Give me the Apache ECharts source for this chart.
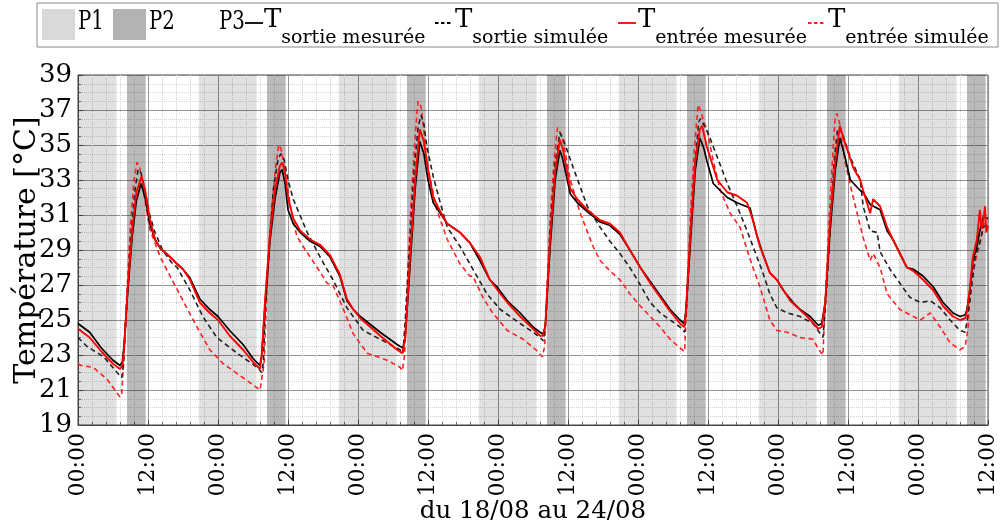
<!DOCTYPE html>
<html><head><meta charset="utf-8">
<script src="https://cdn.jsdelivr.net/npm/echarts@6/dist/echarts.min.js"></script>
<style>html,body{margin:0;padding:0;background:#fff}#c{width:1001px;height:526px}</style>
</head><body><div id="c"></div><script>
// Hours since 18/08 00:00
var tickLabels = ['00:00', '12:00'];
var p1Bands = [[0,6.6],[20.7,30.6],[44.7,54.6],[68.7,78.6],[92.7,102.6],[116.7,126.6],[140.7,150.6]];
var p2Bands = [[8.4,11.6],[32.4,35.6],[56.4,59.6],[80.4,83.6],[104.4,107.6],[128.4,131.6],[152.4,155.6]];

var sortieMesuree = [
 [0,24.8],[2,24.3],[4,23.4],[6,22.7],[7.2,22.4],[7.6,22.6],[7.9,23.6],[8.1,23.5],[8.5,26.5],[9.3,29.8],[10.0,31.8],[10.8,32.8],[11.5,32.0],[12.3,30.5],[13.2,29.6],[14.1,29.1],[15.8,28.6],[17,28.2],[18,27.9],[19.2,27.4],[20.9,26.2],[22.6,25.6],[24,25.2],[26,24.4],[28.3,23.6],[30.0,22.8],[31.2,22.4],
 [31.5,23.0],[32.1,26.0],[32.9,29.5],[33.8,32.0],[34.6,33.4],[35.0,33.6],[35.5,32.8],[36.0,31.3],[36.9,30.5],[38.1,30.0],[39.8,29.5],[41.5,29.2],[43.2,28.6],[44.9,27.5],[46.1,26.1],[47.2,25.6],[48.4,25.2],[51.8,24.3],[54.7,23.6],[55.7,23.4],
 [56.1,24.0],[56.9,28.0],[57.8,32.5],[58.6,35.2],[59.3,34.5],[60.0,33.0],[60.9,31.7],[62.1,31.1],[63.3,30.5],[65.5,30.0],[67.2,29.4],[68.9,28.4],[70.6,27.3],[71.8,26.9],[73.6,26.1],[75.8,25.4],[78.0,24.6],[79.2,24.3],[79.7,24.2],
 [80.1,24.6],[80.9,29.0],[81.8,33.0],[82.6,34.7],[83.1,34.2],[84.4,32.2],[85.6,31.7],[87.3,31.2],[89.5,30.6],[91.2,30.4],[92.9,29.9],[94.6,29.0],[96.4,28.0],[98.1,27.2],[99.8,26.4],[101.5,25.6],[103.2,25.0],[103.9,24.8],
 [104.2,25.5],[104.9,29.0],[105.8,33.5],[106.6,35.4],[107.3,34.8],[107.8,34.1],[108.9,32.8],[110.1,32.4],[111.3,32.0],[113.0,31.7],[115.2,31.4],[116.4,29.8],[117.4,28.8],[118.6,27.7],[119.8,27.3],[120.9,26.7],[122.6,26.0],[123.8,25.6],[125.5,25.2],[126.9,24.7],[127.5,24.8],
 [128.1,26.0],[128.9,30.0],[129.8,33.5],[130.6,35.4],[131.5,34.3],[132.4,33.0],[134.1,32.4],[134.6,32.3],[135.8,31.6],[137.5,31.3],[138.7,30.1],[139.7,29.6],[140.9,28.8],[142.1,28.0],[143.2,27.9],[144.9,27.5],[146.6,26.9],[148.3,26.0],[150.0,25.4],[151.2,25.2],[152.1,25.3],[152.4,25.6],[152.9,26.7],[153.4,28.4],[154.1,29.2],[154.6,30.1],[155.2,30.9],[156,30.8]
];
var sortieSimulee = [
 [0,24.0],[1.5,23.5],[4.4,22.9],[6.7,22.0],[7.5,21.7],[7.8,22.5],[8.3,25.5],[9.0,29.5],[9.8,32.5],[10.3,33.6],[10.8,33.4],[11.5,32.4],[12.3,31.0],[13.2,30.0],[14.5,29.0],[16.0,28.3],[17.0,28.0],[19.2,26.7],[21.4,25.2],[23.8,24.0],[27.3,23.1],[30.7,22.3],[31.5,22.0],[31.8,22.6],
 [32.0,25.0],[32.7,29.0],[33.5,32.5],[34.3,34.2],[34.8,34.5],[35.3,34.2],[36.0,33.0],[36.9,31.9],[39.3,30.0],[41.5,28.6],[43.7,27.3],[46.1,25.7],[48.9,24.4],[51.8,23.9],[55.2,23.3],[55.7,23.1],
 [56.1,25.0],[56.9,29.5],[57.6,33.5],[58.3,36.0],[58.8,36.7],[59.3,36.2],[59.8,34.9],[60.9,33.2],[62.1,31.7],[63.3,30.3],[65.5,29.2],[67.7,27.9],[70.1,26.5],[72.4,25.6],[75.8,24.8],[78.0,24.3],[79.2,24.0],[79.8,23.8],
 [80.2,25.0],[80.9,30.0],[81.8,34.0],[82.6,35.7],[83.2,35.3],[84.9,33.7],[87.3,31.5],[89.5,30.3],[91.2,29.5],[92.9,28.8],[94.6,28.0],[96.4,27.0],[98.1,26.0],[99.8,25.4],[101.5,25.0],[103.2,24.6],[104.0,24.3],
 [104.3,25.5],[105.0,30.0],[105.8,34.0],[106.4,36.3],[106.7,36.5],[107.2,36.2],[108.0,35.7],[109.6,34.3],[111.3,32.8],[113.0,31.5],[114.7,30.1],[116.4,28.6],[117.4,27.7],[118.6,26.5],[119.8,25.7],[121.6,25.4],[123.8,25.2],[126.0,24.8],[127.7,24.0],
 [128.1,25.5],[128.9,30.0],[129.6,34.0],[130.2,35.9],[130.6,36.0],[131.3,35.4],[132.4,34.3],[134.1,33.0],[134.6,31.5],[135.8,30.1],[137.0,30.0],[137.5,28.9],[139.2,27.9],[140.9,27.1],[142.6,26.3],[144.4,26.0],[146.1,26.1],[147.8,25.7],[149.5,25.0],[151.2,24.4],[152.1,24.3],[152.9,26.1],[153.8,28.6],[154.6,29.4],[155.2,30.3],[156,30.5]
];
var entreeMesuree = [
 [0,24.5],[2,24.0],[4,23.2],[6,22.5],[7.2,22.2],[7.6,22.4],[7.9,23.3],[8.1,23.4],[8.5,26.8],[9.3,30.2],[10.0,32.3],[10.9,33.2],[11.5,32.4],[12.3,30.8],[13.2,29.6],[14.1,29.1],[15.8,28.6],[17,28.2],[18,27.9],[19.2,27.3],[20.9,26.0],[22.6,25.4],[24,25.0],[26,24.1],[28.3,23.3],[30,22.6],[31.2,22.2],
 [31.5,23.0],[32.1,26.3],[32.9,29.8],[33.8,32.5],[34.6,33.8],[35.0,34.0],[35.5,33.4],[36.0,32.0],[36.9,30.8],[38.1,30.1],[39.8,29.6],[41.5,29.3],[43.2,28.7],[44.9,27.6],[46.1,26.2],[47.2,25.6],[48.4,25.1],[51.8,24.1],[54.7,23.3],[55.6,23.1],
 [56.1,24.0],[56.9,28.5],[57.8,33.0],[58.6,35.9],[59.3,35.2],[60.0,33.6],[60.9,32.0],[62.1,31.2],[63.3,30.5],[65.5,30.0],[67.2,29.4],[68.9,28.6],[70.6,27.3],[72.4,26.5],[73.6,26.0],[75.8,25.2],[78.0,24.5],[79.2,24.1],[79.7,24.1],
 [80.1,24.6],[80.9,29.5],[81.8,33.5],[82.6,35.3],[83.1,34.8],[84.4,32.5],[85.6,31.9],[87.3,31.3],[89.5,30.7],[91.2,30.5],[92.9,30.0],[94.6,29.0],[96.4,28.0],[98.1,27.1],[99.8,26.3],[101.5,25.5],[103.2,24.8],[103.9,24.6],
 [104.2,25.3],[104.9,29.5],[105.8,34.0],[106.6,35.9],[107.0,36.1],[107.8,34.9],[109.6,33.0],[111.3,32.3],[113.0,32.1],[114.7,31.7],[115.7,30.7],[116.9,29.2],[118.6,27.7],[119.8,27.3],[122.1,26.1],[125.0,25.2],[126.9,24.5],[127.5,24.6],
 [128.1,26.0],[128.9,30.5],[129.8,34.0],[130.6,36.1],[131.3,35.3],[132.9,33.7],[134.1,33.0],[134.6,32.4],[135.8,31.1],[136.3,31.9],[137.5,31.5],[138.7,30.3],[139.7,29.6],[140.9,28.8],[142.1,28.0],[143.2,27.8],[144.9,27.3],[146.6,26.7],[148.3,25.8],[150.0,25.2],[151.2,25.0],[152.1,25.1],[152.4,25.5],[152.9,26.8],[153.4,28.6],[154.1,29.6],[154.6,31.3],[154.9,30.2],[155.2,30.7],[155.5,31.5],[155.7,30.0],[156,30.4]
];
var entreeSimulee = [
 [0,22.5],[0.5,22.4],[2.6,22.3],[5.0,21.6],[7.2,20.6],[7.5,20.8],[7.8,22.5],[8.3,26.0],[9.0,30.5],[9.6,33.0],[10.1,34.0],[10.6,33.7],[11.3,32.2],[12.3,30.2],[14.1,28.6],[15.8,27.5],[18.0,26.1],[20.4,24.6],[22.6,23.3],[24.9,22.5],[28.3,21.7],[31.2,21.0],[31.5,20.9],[31.9,22.5],
 [32.3,26.0],[33.0,30.5],[33.8,33.5],[34.4,35.0],[34.8,34.8],[35.5,33.5],[36.4,31.5],[37.5,29.8],[38.6,29.2],[41.0,28.0],[42.7,27.1],[43.7,27.0],[45.4,25.7],[47.2,24.2],[49.6,23.1],[53.0,22.7],[55.2,22.3],[55.6,22.1],[56.0,23.0],
 [56.3,26.0],[57.0,31.0],[57.6,34.5],[58.1,36.8],[58.3,37.5],[58.8,37.2],[59.3,35.8],[59.8,34.0],[61.5,31.3],[63.3,29.6],[65.5,28.2],[67.2,27.5],[67.7,27.5],[69.4,26.3],[71.1,25.4],[73.6,24.4],[76.3,23.9],[78.5,23.3],[79.6,22.9],[80.0,23.5],
 [80.3,26.0],[81.0,31.0],[81.7,34.5],[82.2,36.0],[82.5,36.1],[83.0,35.5],[84.4,33.0],[86.1,31.1],[88.3,29.2],[89.5,28.4],[91.2,27.8],[92.9,27.3],[94.6,26.5],[96.4,25.8],[98.1,25.2],[99.8,24.6],[101.5,23.9],[103.2,23.4],[104.0,23.2],
 [104.3,26.0],[105.0,31.0],[105.6,34.5],[106.3,37.3],[106.7,37.0],[107.3,36.3],[107.8,35.9],[108.9,34.1],[110.1,32.4],[111.8,31.1],[113.5,30.3],[114.7,29.0],[115.7,28.0],[116.9,26.9],[118.6,25.0],[119.8,24.4],[121.6,24.3],[123.8,24.0],[126.0,23.9],[127.0,23.3],[127.7,23.0],
 [128.1,26.0],[128.8,31.0],[129.4,34.5],[129.8,36.6],[130.1,36.8],[130.6,36.2],[131.5,34.0],[132.9,32.0],[134.6,29.7],[135.8,28.4],[136.3,28.8],[137.5,28.0],[138.7,26.5],[140.9,25.6],[143.2,25.2],[144.4,25.0],[146.1,25.4],[147.8,24.6],[149.5,23.7],[151.2,23.3],[152.1,23.5],[152.6,24.6],[152.9,26.7],[153.8,28.3],[154.6,29.4],[155.3,30.5],[156,30.7]
];

var FONT = 'DejaVu Serif';
var chart = echarts.init(document.getElementById('c'), null, {renderer: 'canvas'});

function bandAreas(bands, color) {
  return bands.map(function (b) {
    return [{xAxis: b[0], itemStyle: {color: color}}, {xAxis: b[1]}];
  });
}

var legendY = 23;
function legendLine(x, color, dashed) {
  return {type: 'line', shape: {x1: x, y1: legendY, x2: x + 18, y2: legendY},
    style: {stroke: color, lineWidth: 1.8, lineDash: dashed ? [3.5, 2.5] : null}};
}
function legendT(x, sub) {
  return {type: 'text', x: x, y: 7,
    style: {text: '{t|T}{s|' + sub + '}', font: '26px ' + FONT,
      rich: {t: {fontSize: 26, fontFamily: FONT, fill: '#000', verticalAlign: 'top'},
             s: {fontSize: 19, fontFamily: FONT, fill: '#000', padding: [22, 0, 0, 0]}}}};
}
function legendP(x, label) {
  return {type: 'text', x: x, y: 9, scaleX: 0.76,
    style: {text: label, font: '26px ' + FONT, fill: '#000'}};
}

var option = {
  animation: false,
  backgroundColor: '#fff',
  grid: {left: 78, right: 13, top: 75, bottom: 101, show: true, borderColor: '#444', borderWidth: 1,
         backgroundColor: 'transparent', containLabel: false, outerBoundsMode: 'none'},
  xAxis: {
    type: 'value', min: 0, max: 156, interval: 12,
    name: 'du 18/08 au 24/08', nameLocation: 'middle', nameGap: 74, nameMoveOverlap: false,
    nameTextStyle: {fontFamily: FONT, fontSize: 24.5, color: '#000'},
    axisLine: {show: true, lineStyle: {color: '#444'}},
    axisTick: {show: true, inside: true, length: 5, lineStyle: {color: '#444'}},
    minorTick: {show: true, splitNumber: 5, length: 3, lineStyle: {color: '#666'}},
    axisLabel: {rotate: 90, margin: 8, fontFamily: FONT, fontSize: 22, color: '#000',
      formatter: function (v) { return tickLabels[(v / 12) % 2]; }},
    splitLine: {show: true, lineStyle: {color: '#939393', width: 1}},
    minorSplitLine: {show: true, lineStyle: {color: '#d2d2d2', type: 'dotted', width: 1}}
  },
  yAxis: {
    type: 'value', min: 19, max: 39, interval: 2,
    name: 'Température [°C]', nameLocation: 'middle', nameGap: 36, nameRotate: 90, nameMoveOverlap: false,
    nameTextStyle: {fontFamily: FONT, fontSize: 30, color: '#000'},
    axisLine: {show: true, lineStyle: {color: '#444'}},
    axisTick: {show: true, inside: true, length: 5, lineStyle: {color: '#444'}},
    minorTick: {show: true, splitNumber: 4, length: 3, lineStyle: {color: '#666'}},
    axisLabel: {margin: 6, fontFamily: FONT, fontSize: 26, color: '#000'},
    splitLine: {show: true, lineStyle: {color: '#939393', width: 1}},
    minorSplitLine: {show: true, lineStyle: {color: '#d2d2d2', type: 'dotted', width: 1}}
  },
  series: [
    {type: 'line', name: 'P1', data: [], silent: true, z: 1,
     markArea: {silent: true, data: bandAreas(p1Bands, 'rgba(0,0,0,0.12)')}},
    {type: 'line', name: 'P2', data: [], silent: true, z: 1,
     markArea: {silent: true, data: bandAreas(p2Bands, 'rgba(0,0,0,0.27)')}},
    {type: 'line', name: 'T entrée simulée', data: entreeSimulee, showSymbol: false, z: 3,
     lineStyle: {color: '#ff2020', width: 1.6, type: [5, 3.5]}},
    {type: 'line', name: 'T sortie simulée', data: sortieSimulee, showSymbol: false, z: 4,
     lineStyle: {color: '#222', width: 1.6, type: [5, 3.5]}},
    {type: 'line', name: 'T sortie mesurée', data: sortieMesuree, showSymbol: false, z: 5,
     lineStyle: {color: '#000', width: 1.7}},
    {type: 'line', name: 'T entrée mesurée', data: entreeMesuree, showSymbol: false, z: 6,
     lineStyle: {color: '#ff0000', width: 1.9}}
  ],
  graphic: [
    {type: 'rect', shape: {x: 37, y: 3, width: 961, height: 44}, style: {fill: '#fff', stroke: '#888', lineWidth: 1}},
    {type: 'rect', shape: {x: 42, y: 9, width: 33, height: 31}, style: {fill: '#d9d9d9'}},
    legendP(78, 'P1'),
    {type: 'rect', shape: {x: 113, y: 9, width: 33, height: 31}, style: {fill: '#b3b3b3'}},
    legendP(149, 'P2'),
    legendP(219, 'P3'),
    legendLine(245, '#000', false),
    legendT(264, 'sortie mesurée'),
    legendLine(435, '#000', true),
    legendT(455, 'sortie simulée'),
    legendLine(618, '#ff0000', false),
    legendT(638, 'entrée mesurée'),
    legendLine(808, '#ff2020', true),
    legendT(828, 'entrée simulée')
  ]
};
chart.setOption(option);
</script></body></html>
